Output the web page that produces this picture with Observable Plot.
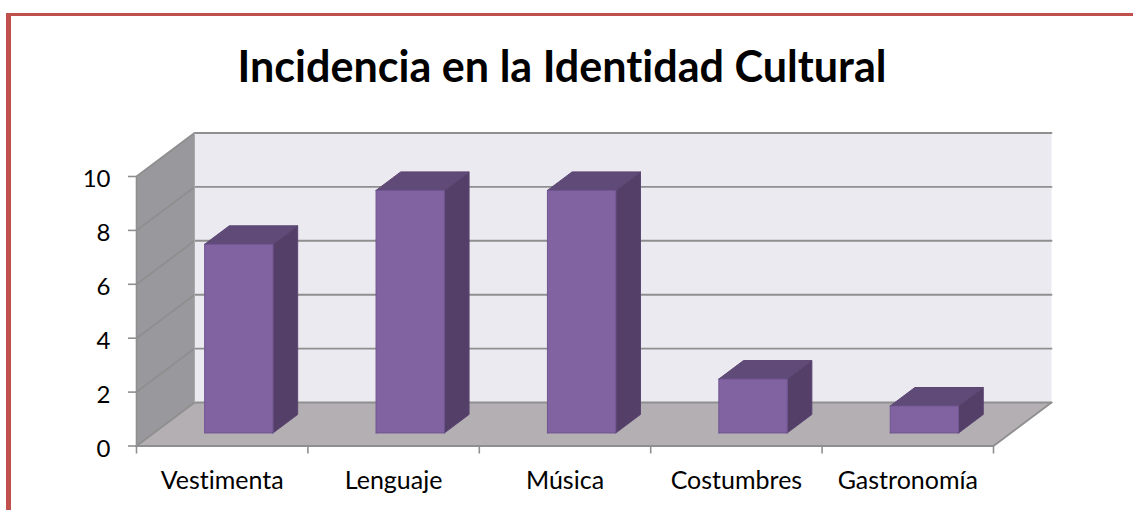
<!DOCTYPE html>
<html lang="es">
<head>
<meta charset="utf-8">
<script src="https://cdn.jsdelivr.net/npm/d3@7"></script>
<script src="https://cdn.jsdelivr.net/npm/@observablehq/plot@0.6"></script>
<style>
  html, body { margin: 0; padding: 0; background: #fff; overflow: hidden; }
  #page { position: relative; width: 1133px; height: 510px; font-family: Lato, sans-serif; font-variant-ligatures: none; }
  #frame { position: absolute; left: 6px; top: 13px; right: 0; bottom: 0; border-top: 3px solid #C0504D; border-left: 5px solid #C0504D; pointer-events: none; }
  #title { position: relative; box-sizing: border-box; width: 1124px; height: 100px; padding-top: 40px; text-align: center; font-size: 43.1px; line-height: 50px; font-weight: 700; color: #000; font-family: Lato, sans-serif; }
  svg { display: block; font-variant-ligatures: none; }
</style>
</head>
<body>
<div id="page">
  <div id="frame"></div>
  <div id="title">Incidencia en la Identidad Cultural</div>
  <div id="chart"></div>
</div>
<script>
const categories = ["Vestimenta", "Lenguaje", "Música", "Costumbres", "Gastronomía"];
const values = [7, 9, 9, 2, 1];
const yTicks = [0, 2, 4, 6, 8, 10];
const xEdges = [0, 1, 2, 3, 4, 5];

// Oblique projection of the 3D box, expressed in scale units
const depthX = 0.3384, depthY = 1.614;
const barStart = 0.296, barWidth = 0.399;
const barNear = 0.3, barFar = 0.725;
const P = (c, d, v) => ({x: c + d * depthX, y: v + d * depthY});
const poly = (pts, fill, stroke, strokeWidth = 1) =>
  Plot.line([...pts, pts[0]], {x: "x", y: "y", fill, stroke, strokeWidth, strokeLinejoin: "round"});
const seg = (pts, stroke = "#8f8f8f", strokeWidth = 1.9) =>
  Plot.line(pts, {x: "x", y: "y", stroke, strokeWidth});

const marks = [];
// back wall, left wall, floor
marks.push(poly([P(0,1,0), P(5,1,0), P(5,1,10), P(0,1,10)], "#ECEAF1", "none"));
marks.push(poly([P(0,0,0), P(0,1,0), P(0,1,10), P(0,0,10)], "#99989C", "none"));
marks.push(poly([P(0,0,0), P(5,0,0), P(5,1,0), P(0,1,0)], "#B3AFB3", "none"));
// gridlines on both walls
for (const v of yTicks) {
  marks.push(seg([P(0,1,v), P(5,1,v)]));
  marks.push(seg([P(0,0,v), P(0,1,v)]));
}
marks.push(seg([P(0,1,0), P(0,1,10)], "#a9a9ab", 1));
marks.push(seg([P(0,0,0), P(0,0,10)], "#8f8f8f", 1.6));
marks.push(seg([P(0,0,0), P(5,0,0), P(5,1,0)]));
// bars
values.forEach((v, i) => {
  const l = i + barStart, r = l + barWidth;
  marks.push(poly([P(r,barNear,0), P(r,barFar,0), P(r,barFar,v), P(r,barNear,v)], "#543F68", "#5b4672"));
  marks.push(poly([P(l,barNear,v), P(r,barNear,v), P(r,barFar,v), P(l,barFar,v)], "#604A78", "#5b4672"));
  marks.push(poly([P(l,barNear,0), P(r,barNear,0), P(r,barNear,v), P(l,barNear,v)], "#8263A1", "#6f5590"));
});
// axes
marks.push(Plot.axisY({ticks: yTicks, tickSize: 8, tickFormat: () => "", stroke: "#8f8f8f", label: null, strokeWidth: 1.6}));
marks.push(Plot.text(yTicks, {x: () => 0, y: d => d, dx: -26, dy: 3, textAnchor: "end", text: d => String(d), fontSize: 24, fill: "#000"}));
marks.push(Plot.axisX({ticks: xEdges, tickSize: 8, tickFormat: () => "", stroke: "#8f8f8f", label: null, strokeWidth: 1.6}));
marks.push(Plot.text(categories, {x: (d, i) => i + 0.5, y: () => 0, dy: 35, text: d => d, fontSize: 25, fill: "#000"}));

const plot = Plot.plot({
  width: 1133, height: 410,
  marginLeft: 136, marginRight: 140, marginTop: 20, marginBottom: 64.5,
  x: {type: "linear", domain: [0, 5], range: [136, 993], axis: null},
  y: {type: "linear", domain: [0, 10], range: [345.5, 76], axis: null},
  style: {background: "transparent", fontFamily: "Lato, sans-serif", overflow: "visible"},
  marks
});
document.getElementById("chart").appendChild(plot);
</script>
</body>
</html>
